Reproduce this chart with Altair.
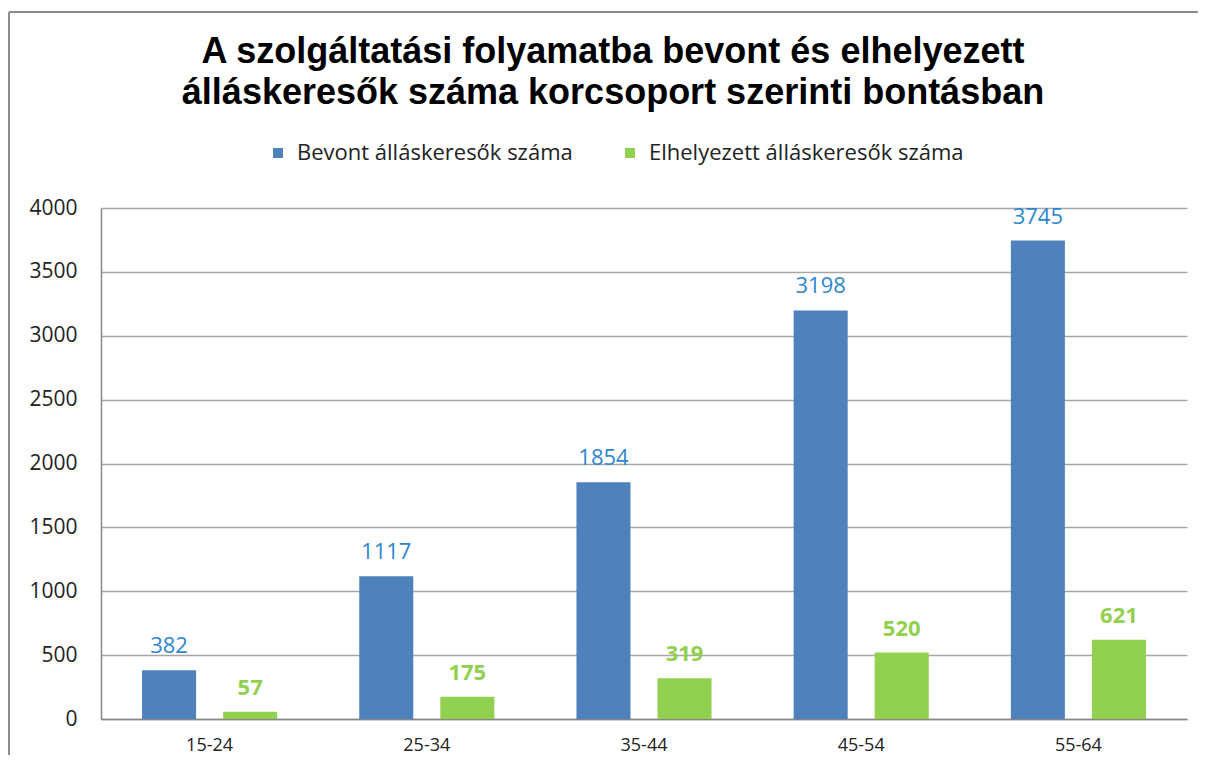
import altair as alt
import pandas as pd

categories = ["15-24", "25-34", "35-44", "45-54", "55-64"]
series = ["Bevont álláskeresők száma", "Elhelyezett álláskeresők száma"]
bevont = [382, 1117, 1854, 3198, 3745]
elhelyezett = [57, 175, 319, 520, 621]
y_ticks = [0, 500, 1000, 1500, 2000, 2500, 3000, 3500, 4000]
title_lines = [
    "A szolgáltatási folyamatba bevont és elhelyezett",
    "álláskeresők száma korcsoport szerinti bontásban",
]

rows = []
for c, v in zip(categories, bevont):
    rows.append({"kor": c, "sorozat": series[0], "ertek": v})
for c, v in zip(categories, elhelyezett):
    rows.append({"kor": c, "sorozat": series[1], "ertek": v})
df = pd.DataFrame(rows)

FONT = "Open Sans"

x_enc = alt.X(
    "kor:N",
    sort=categories,
    scale=alt.Scale(paddingInner=0.378, paddingOuter=0.189),
    axis=alt.Axis(
        title=None,
        labelAngle=0,
        labelFont=FONT,
        labelFontSize=18,
        labelColor="#222222",
        labelPadding=17,
        ticks=False,
        domainColor="#868686",
        domainWidth=1.5,
    ),
)
xoff_enc = alt.XOffset(
    "sorozat:N", sort=series, scale=alt.Scale(paddingInner=1 / 3, paddingOuter=0)
)
y_enc = alt.Y(
    "ertek:Q",
    scale=alt.Scale(domain=[0, 4000], nice=False),
    axis=alt.Axis(
        title=None,
        values=y_ticks,
        format="d",
        labelFont=FONT,
        labelFontSize=21,
        labelColor="#222222",
        labelPadding=24,
        ticks=False,
        domainColor="#868686",
        domainWidth=1.5,
        grid=True,
        gridColor="#A6A6A6",
        gridWidth=1.3,
    ),
)

base = alt.Chart(df).encode(x=x_enc, xOffset=xoff_enc, y=y_enc)

bars = base.mark_bar().encode(
    color=alt.Color(
        "sorozat:N",
        sort=series,
        scale=alt.Scale(domain=series, range=["#4F81BD", "#92D050"]),
        legend=alt.Legend(
            title=None,
            orient="none",
            legendX=166,
            legendY=-66,
            direction="horizontal",
            symbolType="square",
            symbolSize=100,
            symbolStrokeWidth=0,
            labelFont=FONT,
            labelFontSize=22,
            labelColor="#222222",
            labelOffset=8,
            columnPadding=46,
            labelLimit=400,
        ),
    )
)

txt_blue = (
    base.transform_filter(alt.datum.sorozat == series[0])
    .mark_text(dy=-17, baseline="alphabetic", font=FONT, fontSize=22, color="#2F86D0")
    .encode(text="ertek:Q")
)
txt_green = (
    base.transform_filter(alt.datum.sorozat == series[1])
    .mark_text(
        dy=-17, baseline="alphabetic", font=FONT, fontSize=22, fontWeight="bold", color="#92D050"
    )
    .encode(text="ertek:Q")
)

frame_df = pd.DataFrame({"k": [0]})
frame_left = alt.Chart(frame_df).mark_rule(color="#8C8C8C", strokeWidth=2).encode(
    x=alt.value(-92), y=alt.value(-196), y2=alt.value(900)
)
frame_top = alt.Chart(frame_df).mark_rule(color="#8C8C8C", strokeWidth=2).encode(
    x=alt.value(-92), x2=alt.value(1300), y=alt.value(-196)
)

chart = (
    alt.layer(frame_left, frame_top, bars, txt_blue, txt_green)
    .properties(
        width=1086,
        height=511,
        autosize=alt.AutoSizeParams(type="none"),
        padding={"left": 93, "top": 200, "right": 11, "bottom": 36},
        title=alt.TitleParams(
            text=title_lines,
            font="Liberation Sans",
            fontSize=36,
            fontWeight="bold",
            color="#000000",
            lineHeight=41,
            anchor="middle",
            dx=-31,
            dy=105,
        ),
    )
    .configure_view(stroke=None)
)

chart.save("out.html", embed_options={"renderer": "svg", "actions": False})
